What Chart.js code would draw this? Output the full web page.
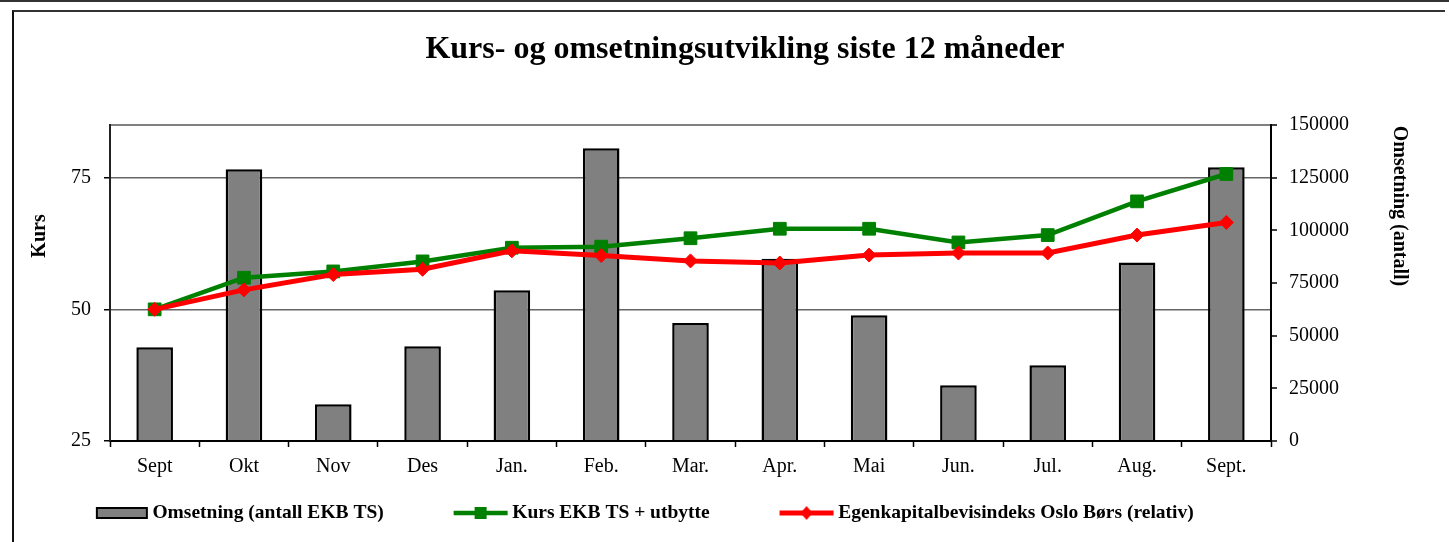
<!DOCTYPE html>
<html>
<head>
<meta charset="utf-8">
<title>Kurs- og omsetningsutvikling siste 12 måneder</title>
<style>
    body { margin: 0; background: #fff; overflow: hidden; }
    #ramme { position: relative; width: 1449px; height: 542px; overflow: hidden; }
    .strek { position: absolute; left: 0; top: 0; width: 1449px; height: 2px; background: #333; }
    .boks { position: absolute; left: 12px; top: 10px; width: 1431px; height: 540px; border-top: 2px solid #333; border-left: 2px solid #111; }
    #graf { position: absolute; left: 0; top: 0; }
</style>
</head>
<body>
<div id="ramme">
    <div class="strek"></div>
    <div class="boks"></div>
    <canvas id="graf" width="1466" height="542"></canvas>
</div>

<script src="https://cdn.jsdelivr.net/npm/chart.js"></script>
<script>
    // Data lest av figuren
    var maaneder = ["Sept", "Okt", "Nov", "Des", "Jan.", "Feb.", "Mar.", "Apr.", "Mai", "Jun.", "Jul.", "Aug.", "Sept."];
    var omsetning = [44500, 129000, 17500, 45000, 71500, 139000, 56000, 86500, 59700, 26500, 36000, 84700, 130000];
    var kurs = [50.0, 56.0, 57.2, 59.1, 61.7, 61.9, 63.5, 65.3, 65.3, 62.7, 64.1, 70.5, 75.7];
    var indeks = [50.0, 53.7, 56.6, 57.6, 61.1, 60.2, 59.2, 58.8, 60.3, 60.7, 60.7, 64.1, 66.5];

    var serieNavn = ["Omsetning (antall EKB TS)", "Kurs EKB TS + utbytte", "Egenkapitalbevisindeks Oslo Børs (relativ)"];
    var kursTicks = [25, 50, 75];

    Chart.defaults.font.family = '"Liberation Serif", "Times New Roman", serif';
    Chart.defaults.color = "#000";

    // Symboler til forklaringen (linje med markør / grå boks)
    var symbolBredde = 108.7;
    function lagSymbol(type) {
        var c = document.createElement("canvas");
        c.width = 129;
        c.height = 18;
        var g = c.getContext("2d");
        var h = c.width - 5;
        if (type === "bar") {
            g.fillStyle = "#808080";
            g.fillRect(h - 51, 4, 50, 10);
            g.strokeStyle = "#000";
            g.lineWidth = 2;
            g.strokeRect(h - 51, 4, 50, 10);
        } else if (type === "kurs") {
            g.strokeStyle = "#008000";
            g.lineWidth = 4.5;
            g.beginPath();
            g.moveTo(h - 54, 9);
            g.lineTo(h, 9);
            g.stroke();
            g.fillStyle = "#008000";
            g.fillRect(h - 33, 3, 12, 12);
        } else {
            g.strokeStyle = "#ff0000";
            g.lineWidth = 5;
            g.beginPath();
            g.moveTo(h - 54, 9);
            g.lineTo(h, 9);
            g.stroke();
            g.fillStyle = "#ff0000";
            g.beginPath();
            g.moveTo(h - 27, 2);
            g.lineTo(h - 21, 9);
            g.lineTo(h - 27, 16);
            g.lineTo(h - 33, 9);
            g.closePath();
            g.fill();
        }
        return c;
    }
    var symboler = [lagSymbol("bar"), lagSymbol("kurs"), lagSymbol("indeks")];

    // Aksetitler (plassert litt over midten, som i originalen)
    var aksetitler = {
        id: "aksetitler",
        afterDraw: function (chart) {
            var ctx = chart.ctx;
            var a = chart.chartArea;
            ctx.save();
            ctx.fillStyle = "#000";
            ctx.font = 'bold 20px "Liberation Serif"';
            ctx.textAlign = "center";
            ctx.textBaseline = "middle";
            ctx.translate(a.left - 70, a.top + 111);
            ctx.rotate(-Math.PI / 2);
            ctx.fillText("Kurs", 0, 0);
            ctx.restore();

            ctx.save();
            ctx.fillStyle = "#000";
            ctx.font = 'bold 20px "Liberation Serif"';
            ctx.textAlign = "center";
            ctx.textBaseline = "middle";
            ctx.translate(a.right + 128, a.top + 81);
            ctx.rotate(Math.PI / 2);
            ctx.fillText("Omsetning (antall)", 0, 0);
            ctx.restore();
        }
    };

    new Chart(document.getElementById("graf"), {
        type: "bar",
        data: {
            labels: maaneder,
            datasets: [
                {
                    type: "bar",
                    label: serieNavn[0],
                    data: omsetning,
                    yAxisID: "omsetning",
                    backgroundColor: "#808080",
                    borderColor: "#000",
                    borderWidth: 2.5,
                    barPercentage: 0.41,
                    categoryPercentage: 1.0,
                    order: 3
                },
                {
                    type: "line",
                    label: serieNavn[1],
                    data: kurs,
                    yAxisID: "kurs",
                    borderColor: "#008000",
                    backgroundColor: "#008000",
                    borderWidth: 4.5,
                    pointStyle: "rect",
                    pointRadius: 9,
                    pointBorderWidth: 1,
                    tension: 0,
                    order: 2
                },
                {
                    type: "line",
                    label: serieNavn[2],
                    data: indeks,
                    yAxisID: "kurs",
                    borderColor: "#ff0000",
                    backgroundColor: "#ff0000",
                    borderWidth: 5,
                    pointStyle: "rectRot",
                    pointRadius: 7,
                    pointBorderWidth: 1,
                    tension: 0,
                    order: 1
                }
            ]
        },
        options: {
            responsive: false,
            animation: false,
            layout: { padding: { left: 24, right: 0, top: 0, bottom: 9.25 } },
            plugins: {
                title: {
                    display: true,
                    text: "Kurs- og omsetningsutvikling siste 12 måneder",
                    color: "#000",
                    font: { size: 32, weight: "bold" },
                    padding: { top: 31, bottom: 55.6 }
                },
                legend: {
                    position: "bottom",
                    align: "start",
                    labels: {
                        usePointStyle: true,
                        pointStyleWidth: symbolBredde,
                        padding: 10,
                        color: "#000",
                        font: { size: 19.5, weight: "bold" },
                        generateLabels: function (chart) {
                            return chart.data.datasets.map(function (ds, i) {
                                return {
                                    text: ds.label,
                                    pointStyle: symboler[i],
                                    fillStyle: "rgba(0,0,0,0)",
                                    strokeStyle: "rgba(0,0,0,0)",
                                    lineWidth: 0,
                                    hidden: false,
                                    datasetIndex: i,
                                    fontColor: "#000"
                                };
                            });
                        }
                    }
                },
                tooltip: { enabled: false }
            },
            scales: {
                x: {
                    grid: { offset: true, drawOnChartArea: false, tickLength: 6, tickColor: "#000", tickWidth: 1.5 },
                    border: { color: "#000", width: 2 },
                    ticks: { color: "#000", font: { size: 20 }, padding: 8, maxRotation: 0, autoSkip: false },
                    afterFit: function (s) { s.height = 52.25; }
                },
                kurs: {
                    position: "left",
                    min: 25,
                    max: 85,
                    afterBuildTicks: function (s) {
                        s.ticks = kursTicks.map(function (v) { return { value: v }; });
                    },
                    ticks: { color: "#000", font: { size: 20 }, padding: 13 },
                    grid: { color: "#666", lineWidth: 1.5, tickLength: 6, tickColor: "#000" },
                    border: { color: "#222", width: 2 },
                    afterFit: function (s) { s.width = 86; }
                },
                omsetning: {
                    position: "right",
                    min: 0,
                    max: 150000,
                    ticks: {
                        stepSize: 25000,
                        color: "#000",
                        font: { size: 20 },
                        padding: 12,
                        callback: function (v) { return String(v); }
                    },
                    grid: {
                        color: function (c) { return c.tick && c.tick.value === 150000 ? "#808080" : "rgba(0,0,0,0)"; },
                        lineWidth: 2,
                        tickLength: 6,
                        tickColor: "#000",
                        tickWidth: 1.5
                    },
                    border: { color: "#000", width: 2 },
                    afterFit: function (s) { s.width = 195; }
                }
            }
        },
        plugins: [aksetitler]
    });
</script>
</body>
</html>
